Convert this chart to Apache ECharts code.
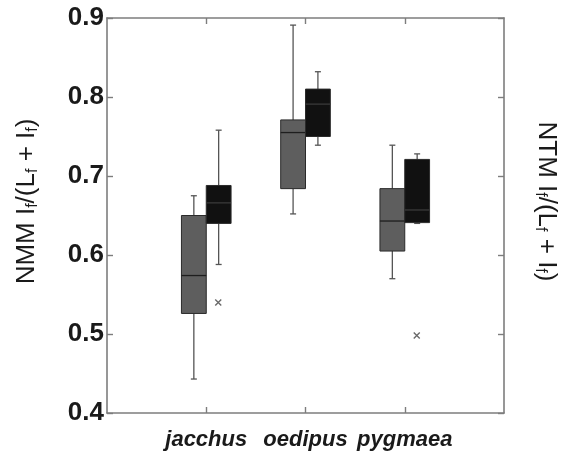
<!DOCTYPE html>
<html>
<head>
<meta charset="utf-8">
<script src="https://cdn.jsdelivr.net/npm/echarts@6/dist/echarts.min.js"></script>
<style>html,body{margin:0;padding:0;background:#fff}#c{width:566px;height:453px}</style>
</head>
<body>
<div id="c"></div>
<script>
// Categories (axis has empty slots at both ends so that ticks fall at 1/4, 2/4, 3/4 of width)
const categories = ['jacchus', 'oedipus', 'pygmaea'];
// [min, Q1, median, Q3, max]
const nmmStats = [
  [0.443, 0.526, 0.574, 0.650, 0.675],
  [0.652, 0.684, 0.755, 0.771, 0.891],
  [0.570, 0.605, 0.643, 0.684, 0.739]
];
const ntmStats = [
  [0.588, 0.640, 0.666, 0.688, 0.758],
  [0.739, 0.750, 0.791, 0.810, 0.832],
  [0.640, 0.641, 0.657, 0.721, 0.728]
];
const ntmOutlierCats = ['jacchus', 'pygmaea'];
const ntmOutlierValues = [0.540, 0.498];
const yTicks = [0.4, 0.5, 0.6, 0.7, 0.8, 0.9];

const axisCats = [''].concat(categories, ['']);
const frameColor = '#7d7d7d';

function boxData(stats) {
  return stats.map((s, i) => [categories[i]].concat(s));
}

function makeRender(side, fill, medianColor) {
  return function (params, api) {
    const cat = api.value(0);
    const band = api.size([1, 0])[0];
    const w = band * 0.25;
    const cx = api.coord([cat, api.value(3)])[0] + side * w / 2;
    const y = k => api.coord([cat, api.value(k)])[1];
    const yMin = y(1), yQ1 = y(2), yMed = y(3), yQ3 = y(4), yMax = y(5);
    const cap = 3;
    const lineStyle = { stroke: '#555', lineWidth: 1.3 };
    return {
      type: 'group',
      children: [
        { type: 'line', shape: { x1: cx, y1: yMax, x2: cx, y2: yQ3 }, style: lineStyle },
        { type: 'line', shape: { x1: cx, y1: yQ1, x2: cx, y2: yMin }, style: lineStyle },
        { type: 'line', shape: { x1: cx - cap, y1: yMax, x2: cx + cap, y2: yMax }, style: lineStyle },
        { type: 'line', shape: { x1: cx - cap, y1: yMin, x2: cx + cap, y2: yMin }, style: lineStyle },
        { type: 'rect', shape: { x: cx - w / 2, y: yQ3, width: w, height: yQ1 - yQ3 },
          style: { fill: fill, stroke: '#2a2a2a', lineWidth: 1 } },
        { type: 'line', shape: { x1: cx - w / 2, y1: yMed, x2: cx + w / 2, y2: yMed },
          style: { stroke: medianColor, lineWidth: 1.3 } }
      ]
    };
  };
}

const nameRich = {
  m: { fontSize: 26, lineHeight: 28, color: '#1a1a1a', fontFamily: 'Liberation Sans' },
  s: { fontSize: 16, lineHeight: 15, verticalAlign: 'bottom', color: '#1a1a1a', fontFamily: 'Liberation Sans' }
};

const chart = echarts.init(document.getElementById('c'), null, { renderer: 'canvas' });
chart.setOption({
  animation: false,
  backgroundColor: '#fff',
  grid: { left: 107, right: 62, top: 18, bottom: 40, containLabel: false, outerBoundsMode: 'none' },
  xAxis: [
    {
      type: 'category', data: axisCats, boundaryGap: false, position: 'bottom',
      axisLine: { lineStyle: { color: frameColor, width: 1.6 } },
      axisTick: { inside: true, length: 6, interval: (i) => i > 0 && i < axisCats.length - 1,
                  lineStyle: { color: frameColor, width: 1.4 } },
      axisLabel: { interval: 0, margin: 16, fontSize: 22, fontStyle: 'italic', fontWeight: 'bold',
                   color: '#1a1a1a', fontFamily: 'Liberation Sans' },
      splitLine: { show: false }
    },
    {
      type: 'category', data: axisCats, boundaryGap: false, position: 'top',
      axisLine: { lineStyle: { color: frameColor, width: 1.6 } },
      axisTick: { inside: true, length: 6, interval: (i) => i > 0 && i < axisCats.length - 1,
                  lineStyle: { color: frameColor, width: 1.4 } },
      axisLabel: { show: false },
      splitLine: { show: false }
    }
  ],
  yAxis: [
    {
      type: 'value', min: yTicks[0], max: yTicks[yTicks.length - 1], interval: 0.1, position: 'left',
      axisLine: { show: true, lineStyle: { color: frameColor, width: 1.6 } },
      axisTick: { show: true, inside: true, length: 6, lineStyle: { color: frameColor, width: 1.4 } },
      axisLabel: { margin: 3, fontSize: 26, fontWeight: 'bold', color: '#1a1a1a', fontFamily: 'Liberation Sans',
                   formatter: v => v.toFixed(1) },
      splitLine: { show: false },
      name: '{m|NMM I}{s|f}{m|/(L}{s|f}{m| + I}{s|f}{m|)}',
      nameLocation: 'middle', nameRotate: 90, nameGap: 66,
      nameTextStyle: { rich: nameRich, padding: [0, 0, 0, 28] }
    },
    {
      type: 'value', min: yTicks[0], max: yTicks[yTicks.length - 1], interval: 0.1, position: 'right',
      axisLine: { show: true, lineStyle: { color: frameColor, width: 1.6 } },
      axisTick: { show: true, inside: true, length: 6, lineStyle: { color: frameColor, width: 1.4 } },
      axisLabel: { show: false },
      splitLine: { show: false },
      name: '{m|NTM I}{s|f}{m|/(L}{s|f}{m| + I}{s|f}{m|)}',
      nameLocation: 'middle', nameRotate: -90, nameGap: 28,
      nameTextStyle: { rich: nameRich, padding: [0, 28, 0, 0] }
    }
  ],
  series: [
    {
      name: 'NMM', type: 'custom', xAxisIndex: 0, yAxisIndex: 0,
      encode: { x: 0, y: [1, 2, 3, 4, 5] },
      data: boxData(nmmStats),
      renderItem: makeRender(-1, '#5e5e5e', '#1e1e1e')
    },
    {
      name: 'NTM', type: 'custom', xAxisIndex: 0, yAxisIndex: 0,
      encode: { x: 0, y: [1, 2, 3, 4, 5] },
      data: boxData(ntmStats),
      renderItem: makeRender(1, '#111111', '#3a3a3a')
    },
    {
      name: 'NTM outliers', type: 'scatter', xAxisIndex: 0, yAxisIndex: 0,
      data: ntmOutlierCats.map((c, i) => [c, ntmOutlierValues[i]]),
      symbol: 'path://M0,0L10,10M10,0L0,10',
      symbolSize: 6, symbolOffset: [12, 0],
      itemStyle: { color: 'none', borderColor: '#444', borderWidth: 1.4 }
    }
  ]
});
</script>
</body>
</html>
